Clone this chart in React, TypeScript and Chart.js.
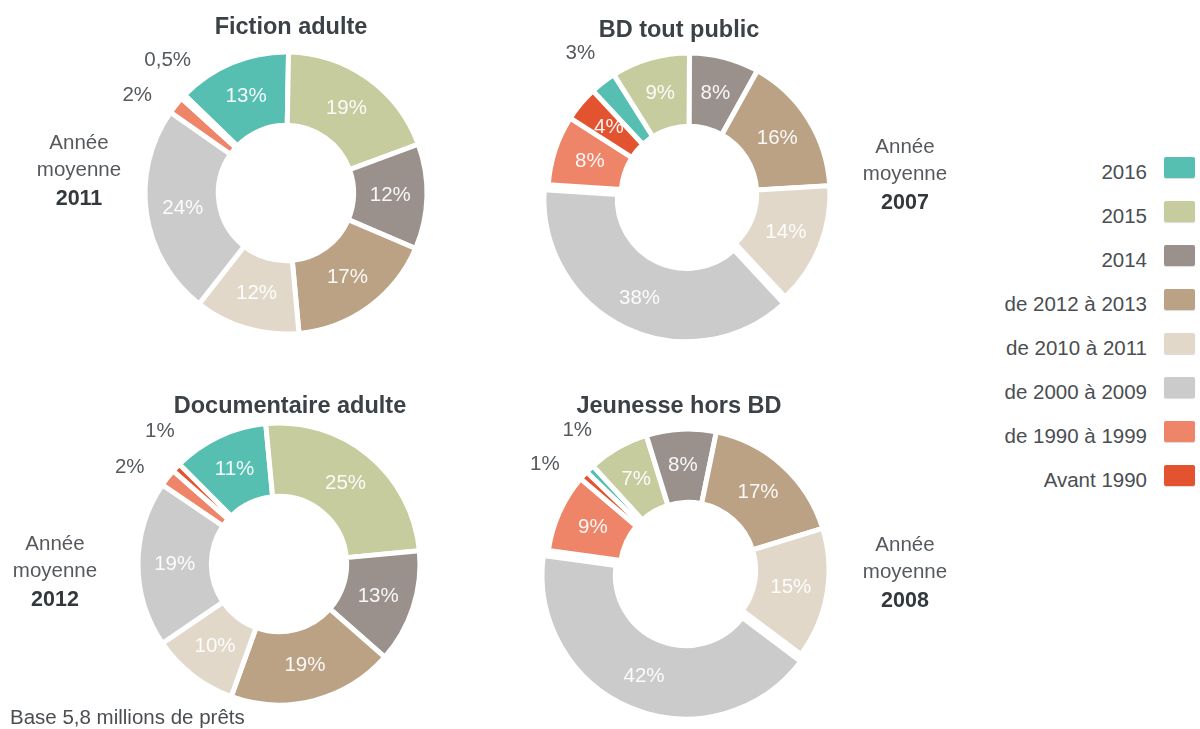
import React, { useEffect, useRef } from 'react';
import { Chart, registerables } from 'chart.js';

Chart.register(...registerables);

// ---------- Data ----------
const categories = [
  '2016',
  '2015',
  '2014',
  'de 2012 à 2013',
  'de 2010 à 2011',
  'de 2000 à 2009',
  'de 1990 à 1999',
  'Avant 1990',
];

const fictionAdulte = [13, 19, 12, 17, 12, 24, 2, 0.5];
const bdToutPublic = [3, 9, 8, 16, 14, 38, 8, 4];
const documentaireAdulte = [11, 25, 13, 19, 10, 19, 2, 1];
const jeunesseHorsBD = [1, 7, 8, 17, 15, 42, 9, 1];

const chartTitles = ['Fiction adulte', 'BD tout public', 'Documentaire adulte', 'Jeunesse hors BD'];
const averageYears = ['2011', '2007', '2012', '2008'];
const averageLabel = ['Année', 'moyenne'];
const footnote = 'Base 5,8 millions de prêts';

// ---------- Styles ----------
const colors = ['#57bfb2', '#c6cc9e', '#9b918c', '#bca285', '#e1d8ca', '#cbcbcb', '#ee8468', '#e4532f'];
const FONT = 'Helvetica, "Liberation Sans", Arial, sans-serif';

const fmt = (v: number) => String(v).replace('.', ',') + '%';
const norm = (a: number) => Math.atan2(Math.sin(a), Math.cos(a));

const sliceLabels = {
  id: 'sliceLabels',
  afterDatasetsDraw(chart: any) {
    const ctx = chart.ctx as CanvasRenderingContext2D;
    const meta = chart.getDatasetMeta(0);
    const data = chart.data.datasets[0].data as number[];
    ctx.save();
    ctx.font = `20.5px ${FONT}`;
    ctx.textAlign = 'center';
    ctx.textBaseline = 'middle';
    const outside: { txt: string; a: number; x: number; y: number; r: number }[] = [];
    meta.data.forEach((arc: any, i: number) => {
      const v = data[i];
      const txt = fmt(v);
      if (v >= 4) {
        const p = arc.tooltipPosition(true);
        ctx.fillStyle = 'rgba(255,255,255,0.93)';
        ctx.fillText(txt, p.x, p.y);
      } else {
        const pr = arc.getProps(['startAngle', 'endAngle', 'x', 'y', 'outerRadius'], true);
        outside.push({ txt, a: norm((pr.startAngle + pr.endAngle) / 2), x: pr.x, y: pr.y, r: pr.outerRadius });
      }
    });
    outside.sort((p, q) => p.a - q.a);
    const gap = (15 * Math.PI) / 180;
    let crowded = false;
    for (let k = 1; k < outside.length; k++) if (outside[k].a - outside[k - 1].a < gap) crowded = true;
    if (crowded) {
      const m = outside.reduce((s, o) => s + o.a, 0) / outside.length;
      outside.forEach((o, k) => (o.a = m + (k - (outside.length - 1) / 2) * gap));
    }
    ctx.fillStyle = '#555a5e';
    outside.forEach((o) => {
      const R = o.r + 37;
      ctx.fillText(o.txt, o.x + Math.cos(o.a) * R, o.y + Math.sin(o.a) * R);
    });
    ctx.restore();
  },
};

type DonutProps = {
  values: number[];
  cx: number;
  cy: number;
  rotation: number;
  explodeIndex?: number;
};

function Donut({ values, cx, cy, rotation, explodeIndex }: DonutProps) {
  const ref = useRef<HTMLCanvasElement>(null);
  useEffect(() => {
    if (!ref.current) return;
    const offsets = values.map((_, i) => (i === explodeIndex ? 22 : 0));
    const chart = new Chart(ref.current, {
      type: 'doughnut',
      data: {
        labels: categories,
        datasets: [
          {
            data: values,
            backgroundColor: colors,
            borderColor: '#ffffff',
            borderWidth: 5,
            borderJoinStyle: 'miter',
            offset: offsets,
            hoverOffset: 0,
          } as any,
        ],
      },
      options: {
        responsive: false,
        animation: false,
        events: [],
        rotation,
        radius: 141,
        cutout: '48%',
        layout: { padding: 0 },
        plugins: { legend: { display: false }, tooltip: { enabled: false } },
      } as any,
      plugins: [sliceLabels as any],
    });
    return () => chart.destroy();
  }, []);
  const S = 460;
  return (
    <canvas
      ref={ref}
      width={S}
      height={S}
      style={{ position: 'absolute', left: cx - S / 2, top: cy - S / 2, width: S, height: S }}
    />
  );
}

const titleStyle: React.CSSProperties = {
  position: 'absolute',
  transform: 'translate(-50%, -50%)',
  fontWeight: 'bold',
  fontSize: 23.5,
  color: '#3b4147',
  whiteSpace: 'nowrap',
};

function Average({ x, y, year }: { x: number; y: number; year: string }) {
  return (
    <div
      style={{
        position: 'absolute',
        left: x,
        top: y,
        transform: 'translateX(-50%)',
        textAlign: 'center',
        fontSize: 20.5,
        lineHeight: '27px',
        color: '#55595d',
        whiteSpace: 'nowrap',
      }}
    >
      <div>{averageLabel[0]}</div>
      <div>{averageLabel[1]}</div>
      <div style={{ fontWeight: 'bold', fontSize: 21.5, lineHeight: '32px', color: '#33383c' }}>{year}</div>
    </div>
  );
}

export default function App() {
  useEffect(() => {
    document.body.style.margin = '0';
  }, []);
  return (
    <div
      style={{
        position: 'fixed',
        left: 0,
        top: 0,
        width: 1200,
        height: 729,
        background: '#fff',
        overflow: 'hidden',
        fontFamily: FONT,
      }}
    >
      <Donut values={fictionAdulte} cx={286} cy={193} rotation={-46} />
      <Donut values={bdToutPublic} cx={689} cy={194} rotation={-43} explodeIndex={5} />
      <Donut values={documentaireAdulte} cx={279} cy={564} rotation={-45} />
      <Donut values={jeunesseHorsBD} cx={688} cy={570} rotation={-46} explodeIndex={5} />

      <div style={{ ...titleStyle, left: 291, top: 26 }}>{chartTitles[0]}</div>
      <div style={{ ...titleStyle, left: 679, top: 29 }}>{chartTitles[1]}</div>
      <div style={{ ...titleStyle, left: 290, top: 405 }}>{chartTitles[2]}</div>
      <div style={{ ...titleStyle, left: 679, top: 405 }}>{chartTitles[3]}</div>

      <Average x={79} y={128} year={averageYears[0]} />
      <Average x={905} y={132} year={averageYears[1]} />
      <Average x={55} y={529} year={averageYears[2]} />
      <Average x={905} y={530} year={averageYears[3]} />

      {categories.map((c, i) => (
        <React.Fragment key={c}>
          <div
            style={{
              position: 'absolute',
              right: 1200 - 1147,
              top: 172 + i * 44,
              transform: 'translateY(-50%)',
              fontSize: 20.5,
              color: '#4a4e52',
              whiteSpace: 'nowrap',
            }}
          >
            {c}
          </div>
          <div
            style={{
              position: 'absolute',
              left: 1164,
              top: 157 + i * 44,
              width: 31,
              height: 21,
              background: colors[i],
              borderRadius: 2,
              boxShadow: '0 1px 1px rgba(0,0,0,0.15)',
            }}
          />
        </React.Fragment>
      ))}

      <div
        style={{
          position: 'absolute',
          left: 10,
          top: 717,
          transform: 'translateY(-50%)',
          fontSize: 20.5,
          color: '#4a4e52',
          whiteSpace: 'nowrap',
        }}
      >
        {footnote}
      </div>
    </div>
  );
}
